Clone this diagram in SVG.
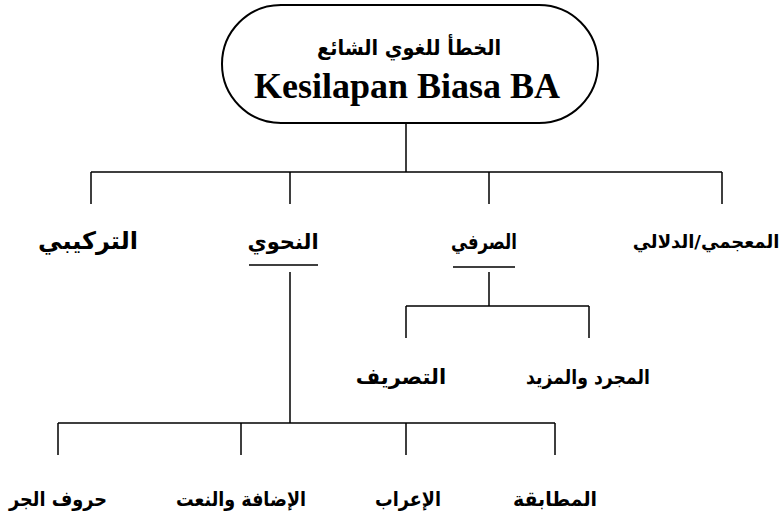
<svg xmlns="http://www.w3.org/2000/svg" width="784" height="519" viewBox="0 0 784 519">
<style>
.bg{fill:#fff}
.pill{fill:#fff;stroke:#000;stroke-width:2}
.ln{fill:none;stroke:#000;stroke-width:1.5}
.ar{font-family:"DejaVu Sans",sans-serif;font-weight:bold;font-size:21px;fill:#000;text-anchor:middle;direction:rtl}
.s18{font-size:18px}
.s20{font-size:20px}
.s24{font-size:24px}
.en{font-family:"Liberation Serif",serif;font-weight:bold;font-size:36px;fill:#000;text-anchor:middle}
</style>
<rect class="bg" x="0" y="0" width="784" height="519"/>
<g id="connectors">
<path class="ln" d="M406 123V172M91 172H722M91 172V204M290 172V204M489 172V204M722 172V204"/>
<path class="ln" d="M249 265H318M453 267H515"/>
<path class="ln" d="M489 272V306M406 306H589M406 306V338M589 306V338"/>
<path class="ln" d="M290 272V423M58 423H555M58 423V455M241 423V455M406 423V455M555 423V455"/>
</g>
<g id="root">
<rect class="pill" x="222" y="5" width="376" height="118" rx="59" ry="59"/>
<text class="ar" x="409" y="55" textLength="184" lengthAdjust="spacingAndGlyphs">الخطأ للغوي الشائع</text>
<text class="en" x="407" y="98">Kesilapan Biasa BA</text>
</g>
<g id="tarkibi"><text class="ar s24" x="88" y="249">التركيبي</text></g>
<g id="nahwi"><text class="ar" x="283" y="249">النحوي</text></g>
<g id="sarfi"><text class="ar" x="484" y="249" textLength="66" lengthAdjust="spacingAndGlyphs">الصرفي</text></g>
<g id="muajami"><text class="ar s18" x="706" y="248">المعجمي/الدلالي</text></g>
<g id="tasrif"><text class="ar" x="401" y="384">التصريف</text></g>
<g id="mujarrad"><text class="ar s20" x="588" y="384" textLength="124" lengthAdjust="spacingAndGlyphs">المجرد والمزيد</text></g>
<g id="huruf"><text class="ar s20" x="58" y="506" textLength="98" lengthAdjust="spacingAndGlyphs">حروف الجر</text></g>
<g id="idafa"><text class="ar s20" x="241" y="506" textLength="130" lengthAdjust="spacingAndGlyphs">الإضافة والنعت</text></g>
<g id="irab"><text class="ar s20" x="408" y="506" textLength="66" lengthAdjust="spacingAndGlyphs">الإعراب</text></g>
<g id="mutabaqa"><text class="ar s20" x="555" y="506" textLength="84" lengthAdjust="spacingAndGlyphs">المطابقة</text></g>
</svg>
